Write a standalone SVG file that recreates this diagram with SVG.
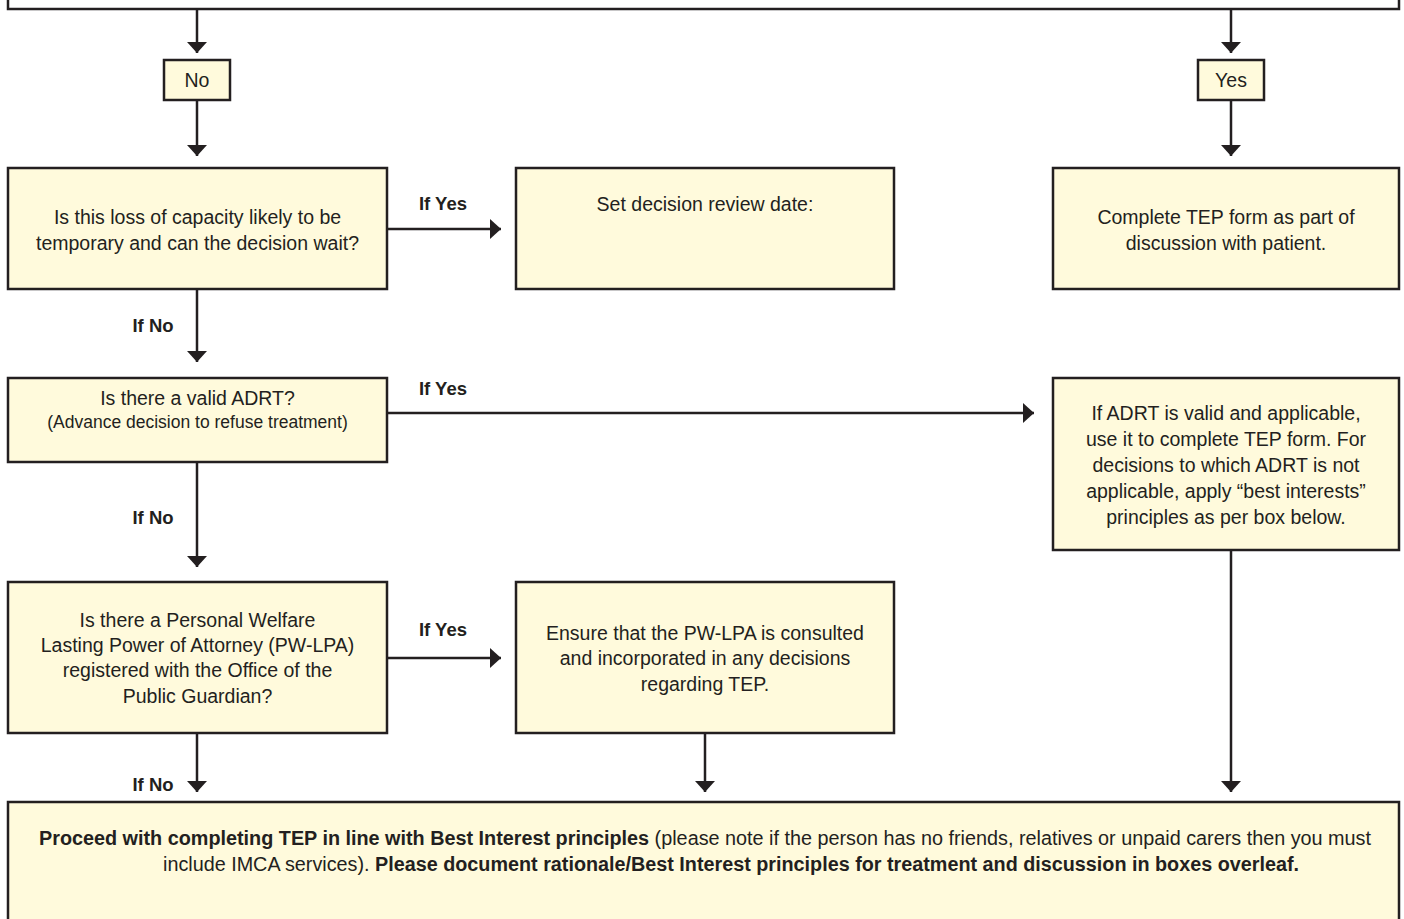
<svg xmlns="http://www.w3.org/2000/svg" width="1404" height="919" viewBox="0 0 1404 919">
<style>
.box{fill:#fffadc;stroke:#231f20;stroke-width:2.5}
.top{fill:#ffffff;stroke:#231f20;stroke-width:2.5}
.t{font-family:"Liberation Sans",Arial,sans-serif;font-size:19.5px;fill:#231f20;text-anchor:middle}
.s{font-size:17.5px}
.b{font-weight:bold}
.lbl{font-family:"Liberation Sans",Arial,sans-serif;font-size:18.5px;font-weight:bold;fill:#231f20;text-anchor:middle}
.c{stroke:#231f20;stroke-width:2.5;fill:none;marker-end:url(#ah)}
</style>
<defs>
<marker id="ah" viewBox="0 0 11 20" refX="11" refY="10" markerWidth="11" markerHeight="20" markerUnits="userSpaceOnUse" orient="auto">
<path d="M0,0 L11,10 L0,20 Z" fill="#231f20"/>
</marker>
</defs>

<g id="connectors">
<path class="c" d="M197,9 V53"/>
<path class="c" d="M197,100 V156"/>
<path class="c" d="M1231,9 V53"/>
<path class="c" d="M1231,100 V156"/>
<path class="c" d="M387,229 H501"/>
<path class="c" d="M197,289 V362"/>
<path class="c" d="M387,413 H1034"/>
<path class="c" d="M197,462 V567"/>
<path class="c" d="M387,658 H501"/>
<path class="c" d="M197,733 V792"/>
<path class="c" d="M705,733 V792"/>
<path class="c" d="M1231,550 V792"/>
<text class="lbl" x="443" y="210">If Yes</text>
<text class="lbl" x="443" y="395">If Yes</text>
<text class="lbl" x="443" y="636">If Yes</text>
<text class="lbl" x="153" y="332">If No</text>
<text class="lbl" x="153" y="524">If No</text>
<text class="lbl" x="153" y="791">If No</text>
</g>

<g id="top">
<rect class="top" x="8" y="-10" width="1391" height="19"/>
</g>

<g id="no">
<rect class="box" x="164" y="60" width="66" height="40"/>
<text class="t" x="197" y="87">No</text>
</g>

<g id="yes">
<rect class="box" x="1198" y="60" width="66" height="40"/>
<text class="t" x="1231" y="87">Yes</text>
</g>

<g id="temporary">
<rect class="box" x="8" y="168" width="379" height="121"/>
<text class="t" x="197.5" y="224">Is this loss of capacity likely to be</text>
<text class="t" x="197.5" y="250">temporary and can the decision wait?</text>
</g>

<g id="review">
<rect class="box" x="516" y="168" width="378" height="121"/>
<text class="t" x="705" y="211">Set decision review date:</text>
</g>

<g id="complete">
<rect class="box" x="1053" y="168" width="346" height="121"/>
<text class="t" x="1226" y="224">Complete TEP form as part of</text>
<text class="t" x="1226" y="250">discussion with patient.</text>
</g>

<g id="adrt">
<rect class="box" x="8" y="378" width="379" height="84"/>
<text class="t" x="197.5" y="405">Is there a valid ADRT?</text>
<text class="t s" x="197.5" y="428">(Advance decision to refuse treatment)</text>
</g>

<g id="adrt-valid">
<rect class="box" x="1053" y="378" width="346" height="172"/>
<text class="t" x="1226" y="420">If ADRT is valid and applicable,</text>
<text class="t" x="1226" y="446">use it to complete TEP form. For</text>
<text class="t" x="1226" y="472">decisions to which ADRT is not</text>
<text class="t" x="1226" y="498">applicable, apply “best interests”</text>
<text class="t" x="1226" y="524">principles as per box below.</text>
</g>

<g id="pwlpa">
<rect class="box" x="8" y="582" width="379" height="151"/>
<text class="t" x="197.5" y="627">Is there a Personal Welfare</text>
<text class="t" x="197.5" y="652">Lasting Power of Attorney (PW-LPA)</text>
<text class="t" x="197.5" y="677">registered with the Office of the</text>
<text class="t" x="197.5" y="703">Public Guardian?</text>
</g>

<g id="consult">
<rect class="box" x="516" y="582" width="378" height="151"/>
<text class="t" x="705" y="640">Ensure that the PW-LPA is consulted</text>
<text class="t" x="705" y="665">and incorporated in any decisions</text>
<text class="t" x="705" y="691">regarding TEP.</text>
</g>

<g id="proceed">
<rect class="box" x="8" y="802" width="1391" height="130"/>
<text class="t" x="705" y="845" textLength="1332" lengthAdjust="spacingAndGlyphs"><tspan class="b">Proceed with completing TEP in line with Best Interest principles</tspan> (please note if the person has no friends, relatives or unpaid carers then you must</text>
<text class="t" x="731" y="871" textLength="1136" lengthAdjust="spacingAndGlyphs">include IMCA services). <tspan class="b">Please document rationale/Best Interest principles for treatment and discussion in boxes overleaf.</tspan></text>
</g>
</svg>
